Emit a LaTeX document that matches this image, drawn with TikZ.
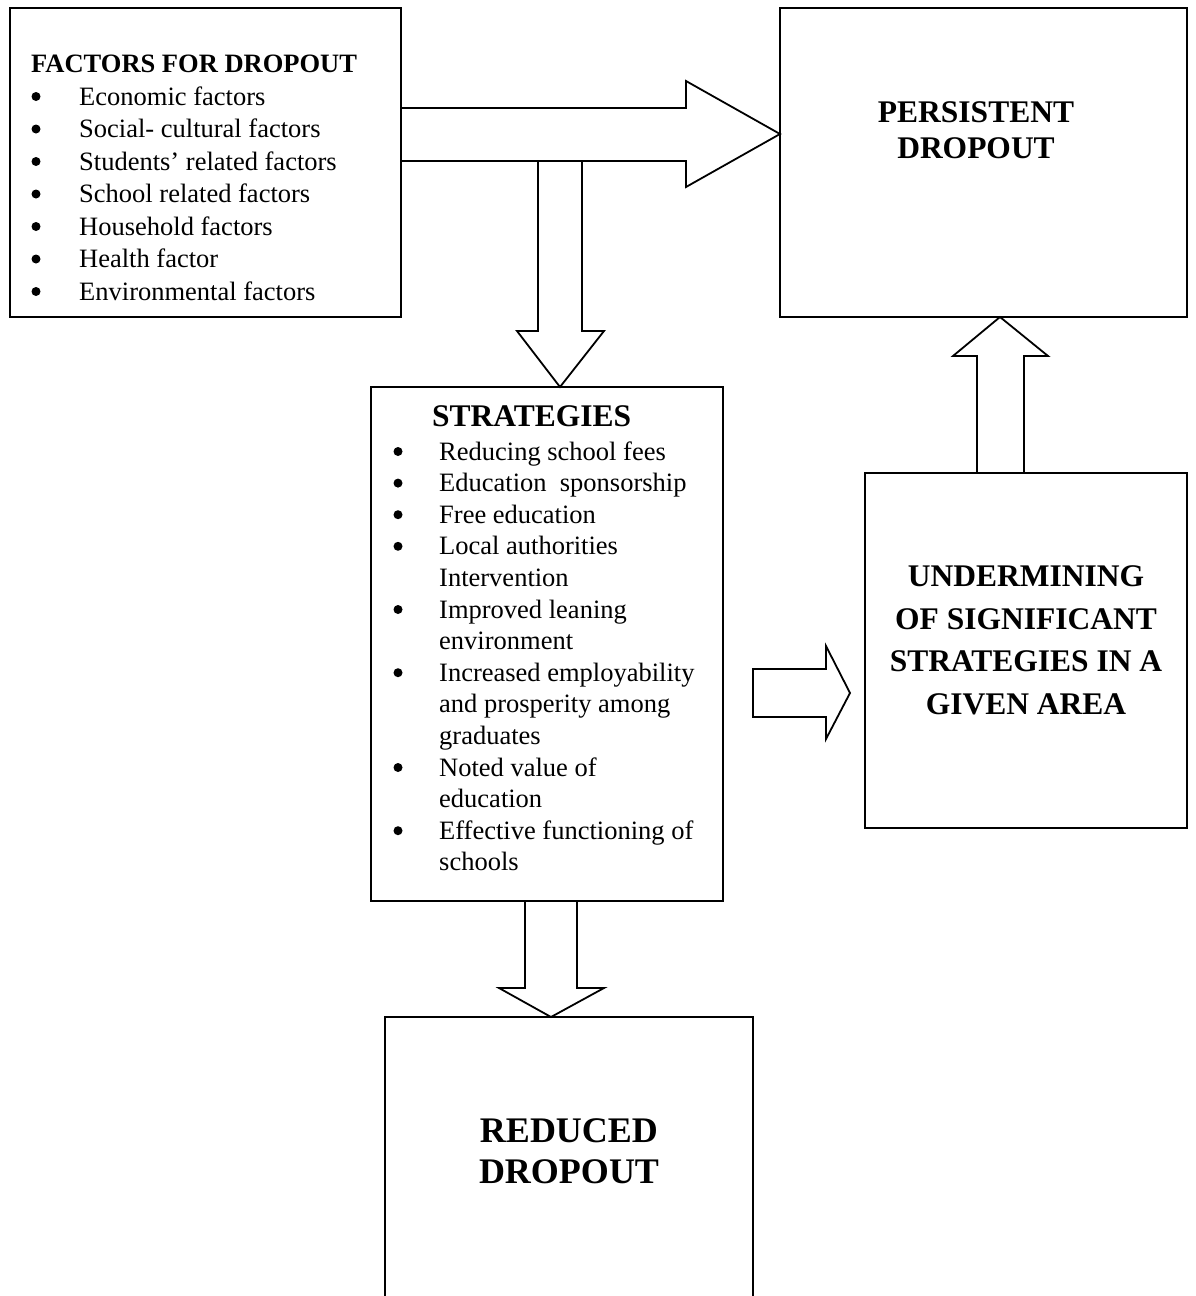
\documentclass[tikz,border=0pt]{standalone}
\usepackage{fontspec}
\setmainfont{Liberation Serif}
\begin{document}
\begin{tikzpicture}[x=1pt,y=-1pt,line join=miter]
\tikzset{
  box/.style={draw, line width=1.8pt, inner sep=0pt, outer sep=0pt, anchor=north west},
  blk/.style={draw, line width=1.8pt},
  txt/.style={inner sep=0pt, anchor=base west, font=\fontsize{26.5}{32}\selectfont},
  bul/.style={circle, fill, inner sep=0pt, minimum size=9pt},
  bhead/.style={inner sep=0pt, anchor=base west, font=\bfseries\fontsize{26.5}{32}\selectfont},
  head/.style={inner sep=0pt, anchor=base, font=\bfseries\fontsize{31.5}{40}\selectfont},
  bighead/.style={inner sep=0pt, anchor=base, font=\bfseries\fontsize{36}{44}\selectfont},
}
\useasboundingbox (0,0) rectangle (1195,1296);
\clip (0,0) rectangle (1195,1296);

% boxes
\node[box, minimum width=391pt, minimum height=309pt] (factors) at (10,8) {};
\node[box, minimum width=407pt, minimum height=309pt] (persistent) at (780,8) {};
\node[box, minimum width=352pt, minimum height=514pt] (strategies) at (371,387) {};
\node[box, minimum width=322pt, minimum height=355pt] (undermining) at (865,473) {};
\node[box, minimum width=368pt, minimum height=300pt] (reduced) at (385,1017) {};

% block arrows
\draw[blk] (factors.east |- 0,108) -- (686,108) -- (686,81) -- (persistent.west |- 0,134)
  -- (686,187) -- (686,161) -- (factors.east |- 0,161);
\draw[blk] (538,161) -- (538,331) -- (517,331) -- (560,0 |- strategies.north)
  -- (604,331) -- (582,331) -- (582,161);
\draw[blk] (753,669) -- (826,669) -- (826,646) -- (850,693) -- (826,739) -- (826,717) -- (753,717) -- cycle;
\draw[blk] (977,0 |- undermining.north) -- (977,356) -- (953,356) -- (1000,0 |- persistent.south)
  -- (1048,356) -- (1024,356) -- (1024,0 |- undermining.north);
\draw[blk] (525,0 |- strategies.south) -- (525,988) -- (499,988) -- (551,0 |- reduced.north)
  -- (604,988) -- (577,988) -- (577,0 |- strategies.south);

% factors text
\node[bhead] (ftitle) at (31,72) {FACTORS FOR DROPOUT};
\foreach \t [count=\i from 0] in {Economic factors, Social- cultural factors, Students’ related factors, School related factors, Household factors, Health factor, Environmental factors}{
  \node[bul] (fb\i) at (36,96.5+32.5*\i) {};
  \node[txt] (ft\i) at (79,105+32.5*\i) {\t};
}

% persistent
\node[head] (p1) at (976,122) {PERSISTENT};
\node[head] (p2) at (976,158) {DROPOUT};

% strategies
\node[head, anchor=base west] (stitle) at (432,426) {STRATEGIES};
\foreach \t [count=\i from 0] in {Reducing school fees, Education\ \ sponsorship, Free education, Local authorities, Intervention, Improved leaning, environment, Increased employability, and prosperity among, graduates, Noted value of, education, Effective functioning of, schools}{
  \node[txt] (st\i) at (439,460+31.6*\i) {\t};
}
\foreach \i in {0,1,2,3,5,7,10,12}{
  \node[bul] (sb\i) at (398,451.5+31.6*\i) {};
}

% undermining
\node[head] (u1) at (1026,586) {UNDERMINING};
\node[head] (u2) at (1026,629) {OF SIGNIFICANT};
\node[head] (u3) at (1026,671) {STRATEGIES IN A};
\node[head] (u4) at (1026,714) {GIVEN AREA};

% reduced
\node[bighead] (r1) at (569,1142) {REDUCED};
\node[bighead] (r2) at (569,1183) {DROPOUT};
\end{tikzpicture}
\end{document}
